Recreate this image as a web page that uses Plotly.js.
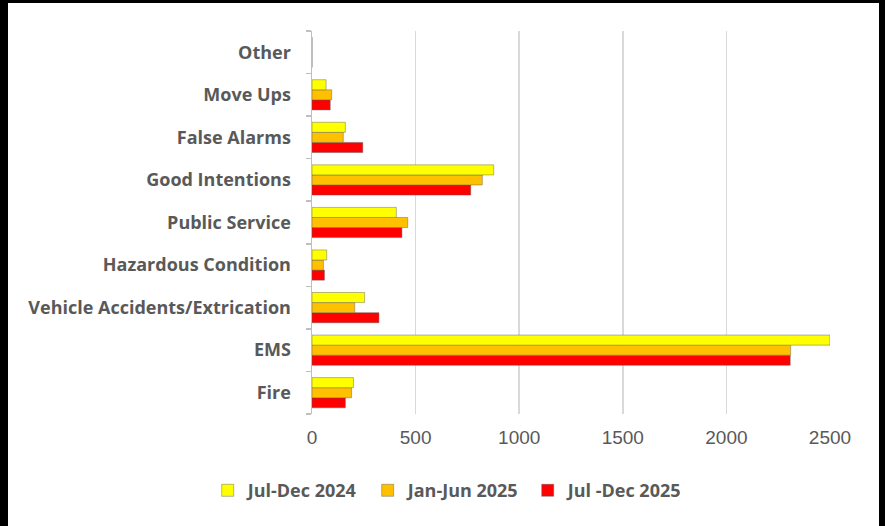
<!DOCTYPE html>
<html>
<head>
<meta charset="utf-8">
<script src="https://cdn.plot.ly/plotly-3.0.1.min.js"></script>
<style>
html,body{margin:0;padding:0;background:#000;width:885px;height:526px;overflow:hidden;}
#chart{position:absolute;left:8px;top:3px;width:871px;height:523px;background:#fff;}
</style>
</head>
<body>
<div id="chart"></div>
<script>
const categories = ["Fire","EMS","Vehicle Accidents/Extrication","Hazardous Condition","Public Service","Good Intentions","False Alarms","Move Ups","Other"];
const jul2024 = [200, 2500, 254, 71, 407, 877, 161, 68, 0];
const jan2025 = [191, 2310, 206, 55, 462, 822, 151, 95, 0];
const jul2025 = [161, 2308, 323, 60, 434, 766, 245, 88, 0];
const seriesNames = ["Jul-Dec 2024", "Jan-Jun 2025", "Jul -Dec 2025"];
const xTicks = [0, 500, 1000, 1500, 2000, 2500];

const lineStyle = {color: 'rgba(90,90,90,0.55)', width: 0.8};
const traces = [
  {type:'bar', orientation:'h', name: seriesNames[2], y: categories, x: jul2025, marker:{color:'#FF0000', line: lineStyle}},
  {type:'bar', orientation:'h', name: seriesNames[1], y: categories, x: jan2025, marker:{color:'#FFC000', line: lineStyle}},
  {type:'bar', orientation:'h', name: seriesNames[0], y: categories, x: jul2024, marker:{color:'#FFFF00', line: lineStyle}}
];

const boldFont = '"Open Sans", sans-serif';
const layout = {
  width: 871, height: 523,
  margin: {l: 304, r: 49, t: 28, b: 112},
  paper_bgcolor: '#ffffff', plot_bgcolor: '#ffffff',
  barmode: 'group', bargap: 0.29, bargroupgap: 0,
  showlegend: true,
  legend: {orientation: 'h', traceorder: 'reversed', x: 0.262, xanchor: 'center', y: -0.2, yanchor: 'middle',
           font: {family: boldFont, size: 18, color: '#595959', weight: 'bold'},
           itemwidth: 30, entrywidth: 115, entrywidthmode: 'pixels'},
  xaxis: {range: [0, 2500], tickvals: xTicks, ticktext: xTicks.map(String), showgrid: true, gridcolor: '#d9d9d9', gridwidth: 1.5,
          zeroline: false, showline: false, ticks: '', ticklabelstandoff: 10,
          tickfont: {family: '"Liberation Sans", Arial, sans-serif', size: 19, color: '#595959'}},
  yaxis: {type: 'category', categoryorder: 'array', categoryarray: categories, showline: true, linecolor: '#bfbfbf', linewidth: 1.5,
          ticks: 'outside', tickson: 'boundaries', ticklen: 5, tickcolor: '#bfbfbf', tickwidth: 1.5, showgrid: false,
          ticklabelstandoff: 16,
          tickfont: {family: boldFont, size: 18, color: '#595959', weight: 'bold'}}
};

Plotly.newPlot('chart', traces, layout, {displayModeBar: false, staticPlot: true});
</script>
</body>
</html>
